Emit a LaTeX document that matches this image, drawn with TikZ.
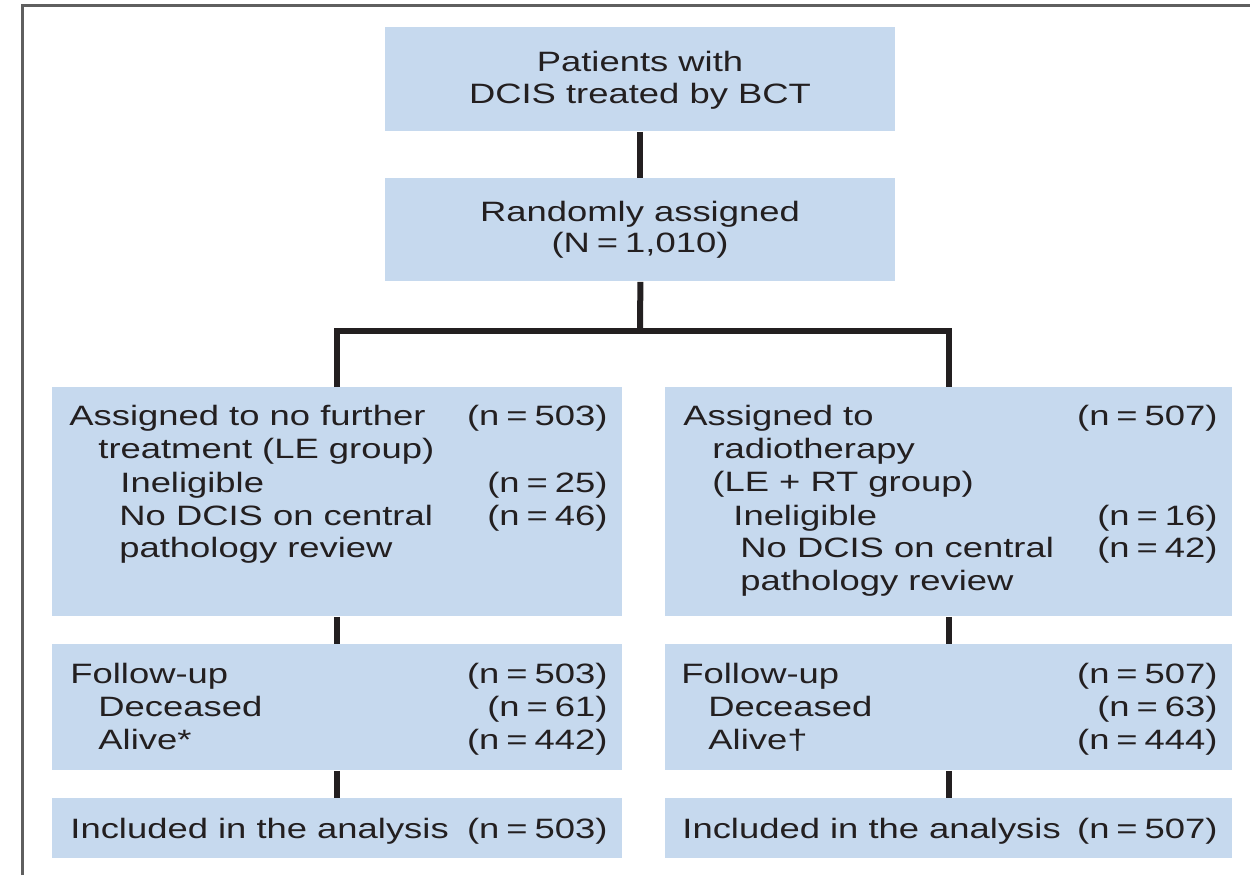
\documentclass[tikz,border=0pt]{standalone}
\usepackage{fontspec}
\setmainfont[FakeStretch=1.3]{Liberation Sans}
\definecolor{boxfill}{RGB}{198,217,238}
\definecolor{ink}{RGB}{35,31,32}
\definecolor{framegray}{RGB}{95,95,95}
\newcommand{\eqsp}{\hspace{0.25em}=\hspace{0.25em}}
\begin{document}
\begin{tikzpicture}[x=0.5pt,y=-0.5pt,
  box/.style={fill=boxfill, draw=none, inner sep=0pt, anchor=north west},
  txt/.style={font=\fontsize{14}{16.5}\selectfont, text=ink, inner sep=0pt},
  lt/.style={txt, anchor=base west},
  rt/.style={txt, anchor=base east},
  ct/.style={txt, anchor=base},
  conn/.style={draw=ink, line width=3pt, line cap=butt, line join=miter}]
\useasboundingbox (0,0) rectangle (1250,875);
\draw[framegray, line width=1.5pt] (22,875) -- (22,5) -- (1250,5);

% boxes
\node[box, minimum width=255pt, minimum height=52pt] (top) at (385,27) {};
\node[box, minimum width=255pt, minimum height=51.5pt] (rand) at (385,178) {};
\node[box, minimum width=285pt, minimum height=114.5pt] (lb) at (52,387) {};
\node[box, minimum width=283.5pt, minimum height=114.5pt] (rb) at (665,387) {};
\node[box, minimum width=285pt, minimum height=63pt] (lf) at (52,644) {};
\node[box, minimum width=283.5pt, minimum height=63pt] (rf) at (665,644) {};
\node[box, minimum width=285pt, minimum height=30pt] (li) at (52,798) {};
\node[box, minimum width=283.5pt, minimum height=30pt] (ri) at (665,798) {};

% connectors
\coordinate (split) at (640,331);
\draw[conn] (top.south) -- (rand.north);
\draw[conn] (rand.south) -- (split);
\draw[conn] (lb.north) |- (split) -| (rb.north);
\draw[conn] (lb.south) -- (lf.north);
\draw[conn] (rb.south) -- (rf.north);
\draw[conn] (lf.south) -- (li.north);
\draw[conn] (rf.south) -- (ri.north);

% top texts
\node[ct] (t1) at (640,71) {Patients with};
\node[ct] (t2) at (640,103) {DCIS treated by BCT};
\node[ct] (r1) at (640,221) {Randomly assigned};
\node[ct] (r2) at (640,252) {(N\eqsp1,010)};

% left big box
\node[lt] (la1) at (69,425) {Assigned to no further};
\node[rt] (la1n) at (608,425) {(n\eqsp503)};
\node[lt] (la2) at (98,458) {treatment (LE group)};
\node[lt] (la3) at (120,492) {Ineligible};
\node[rt] (la3n) at (608,492) {(n\eqsp25)};
\node[lt] (la4) at (119,525) {No DCIS on central};
\node[rt] (la4n) at (608,525) {(n\eqsp46)};
\node[lt] (la5) at (119,557) {pathology review};

% right big box
\node[lt] (ra1) at (683,425) {Assigned to};
\node[rt] (ra1n) at (1218,425) {(n\eqsp507)};
\node[lt] (ra2) at (712,458) {radiotherapy};
\node[lt] (ra3) at (712,491) {(LE + RT group)};
\node[lt] (ra4) at (733,525) {Ineligible};
\node[rt] (ra4n) at (1218,525) {(n\eqsp16)};
\node[lt] (ra5) at (740,557) {No DCIS on central};
\node[rt] (ra5n) at (1218,557) {(n\eqsp42)};
\node[lt] (ra6) at (740,590) {pathology review};

% left follow-up
\node[lt] (lf1) at (70,683) {Follow-up};
\node[rt] (lf1n) at (608,683) {(n\eqsp503)};
\node[lt] (lf2) at (98,716) {Deceased};
\node[rt] (lf2n) at (608,716) {(n\eqsp61)};
\node[lt] (lf3) at (98,749) {Alive*};
\node[rt] (lf3n) at (608,749) {(n\eqsp442)};

% right follow-up
\node[lt] (rf1) at (681,683) {Follow-up};
\node[rt] (rf1n) at (1218,683) {(n\eqsp507)};
\node[lt] (rf2) at (708,716) {Deceased};
\node[rt] (rf2n) at (1218,716) {(n\eqsp63)};
\node[lt] (rf3) at (708,749) {Alive†};
\node[rt] (rf3n) at (1218,749) {(n\eqsp444)};

% included
\node[lt] (li1) at (70,838) {Included in the analysis};
\node[rt] (li1n) at (608,838) {(n\eqsp503)};
\node[lt] (ri1) at (682,838) {Included in the analysis};
\node[rt] (ri1n) at (1218,838) {(n\eqsp507)};
\end{tikzpicture}
\end{document}
